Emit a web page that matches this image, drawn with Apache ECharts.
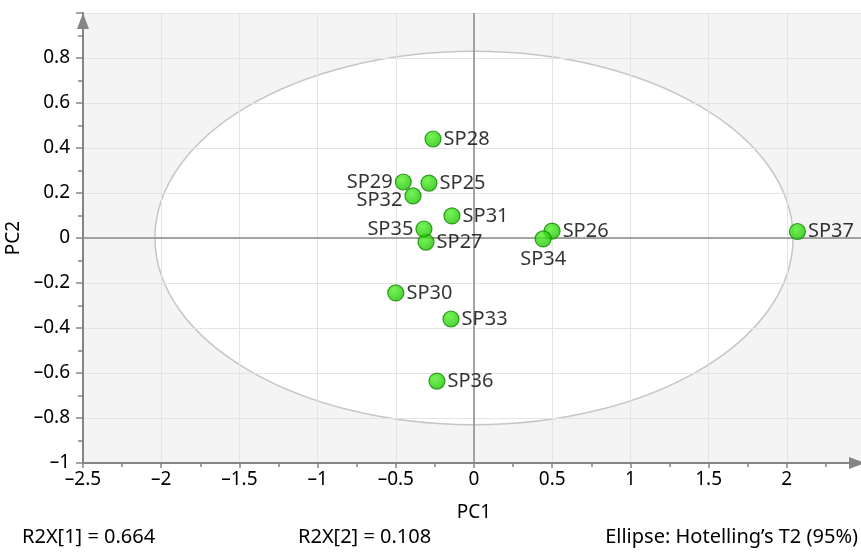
<!DOCTYPE html>
<html>
<head>
<meta charset="utf-8">
<script src="https://cdn.jsdelivr.net/npm/echarts@6/dist/echarts.min.js"></script>
<style>
  html, body { margin: 0; padding: 0; background: #fff; }
  #main { width: 861px; height: 552px; }
</style>
</head>
<body>
<div id="main"></div>
<script>
// scores
var sampleNames = ['SP25', 'SP26', 'SP27', 'SP28', 'SP29', 'SP30', 'SP31', 'SP32', 'SP33', 'SP34', 'SP35', 'SP36', 'SP37'];
var pc1Values = [-0.288, 0.499, -0.307, -0.262, -0.452, -0.500, -0.141, -0.390, -0.147, 0.442, -0.320, -0.237, 2.068];
var pc2Values = [0.244, 0.031, -0.018, 0.440, 0.249, -0.244, 0.098, 0.187, -0.360, -0.004, 0.040, -0.636, 0.029];
// Hotelling T2 ellipse, centre and half axes in data units
var ellipseCenter = [0, 0];
var ellipseRadii = [2.04, 0.83];
var footerTexts = ['R2X[1] = 0.664', 'R2X[2] = 0.108', 'Ellipse: Hotelling\u2019s T2 (95%)'];

// where each label sits relative to its dot
var labelPlace = { SP29: 'left', SP32: 'left', SP35: 'left', SP34: 'bottom' };

var font = 'Noto Sans';
function dash(v) {
  return String(v).replace('-', '\u2013');
}

var points = [];
for (var i = 0; i < sampleNames.length; i++) {
  var p = { name: sampleNames[i], value: [pc1Values[i], pc2Values[i]] };
  if (labelPlace[sampleNames[i]]) {
    p.label = { position: labelPlace[sampleNames[i]] };
  }
  if (sampleNames[i] === 'SP32') p.label.offset = [0, 4];
  points.push(p);
}

var myChart = echarts.init(document.getElementById('main'));
var option = {
  animation: false,
  grid: {
    left: 83, top: 13, width: 782, height: 450,
    outerBoundsMode: 'none', containLabel: false,
    show: true, borderWidth: 0, backgroundColor: '#f4f4f4'
  },
  xAxis: {
    type: 'value', min: -2.5, max: 2.5, interval: 0.5, z: 3,
    name: 'PC1', nameLocation: 'middle', nameGap: 40,
    nameTextStyle: { fontFamily: font, fontSize: 19, color: '#000' },
    axisLine: { onZero: false, lineStyle: { color: '#858585', width: 2 }, symbol: ['none', 'triangle'], symbolSize: [12, 16], symbolOffset: [0, -8] },
    axisTick: { length: 5, lineStyle: { color: '#858585', width: 1.5 } },
    minorTick: { show: true, splitNumber: 2, length: 4, lineStyle: { color: '#858585', width: 1.5 } },
    axisLabel: {
      margin: 7, fontFamily: font, fontSize: 19, color: '#000',
      formatter: function (v) { return v > 2.4 ? '' : dash(v); }
    },
    splitLine: { show: true, lineStyle: { color: '#e4e4e4', width: 1 } }
  },
  yAxis: {
    type: 'value', min: -1, max: 1, interval: 0.2, z: 3,
    name: 'PC2', nameLocation: 'middle', nameGap: 50,
    nameTextStyle: { fontFamily: font, fontSize: 19, color: '#000' },
    axisLine: { onZero: false, lineStyle: { color: '#858585', width: 2 }, symbol: ['none', 'triangle'], symbolSize: [12, 16], symbolOffset: [0, -8] },
    axisTick: { length: 7, lineStyle: { color: '#858585', width: 1.5 } },
    minorTick: { show: true, splitNumber: 2, length: 5, lineStyle: { color: '#858585', width: 1.5 } },
    axisLabel: {
      margin: 13, fontFamily: font, fontSize: 19, color: '#000',
      formatter: function (v) { return v > 0.95 ? '' : dash(Math.round(v * 10) / 10); }
    },
    splitLine: { show: true, lineStyle: { color: '#e4e4e4', width: 1 } }
  },
  series: [
    {
      type: 'custom',
      z: 1,
      silent: true,
      data: [ellipseCenter],
      renderItem: function (params, api) {
        var c = api.coord(ellipseCenter);
        var s = api.size(ellipseRadii);
        return {
          type: 'ellipse',
          shape: { cx: c[0], cy: c[1], rx: s[0], ry: s[1] },
          style: { fill: '#ffffff', stroke: '#c6c6c6', lineWidth: 1.5 }
        };
      }
    },
    {
      type: 'scatter',
      z: 5,
      symbolSize: 16,
      data: points,
      itemStyle: {
        color: new echarts.graphic.RadialGradient(0.4, 0.35, 0.65, [
          { offset: 0, color: '#55f22c' },
          { offset: 1, color: '#1cc400' }
        ]),
        borderColor: '#118600',
        borderWidth: 1.2
      },
      label: {
        show: true, position: 'right', distance: 2,
        formatter: '{b}', fontFamily: font, fontSize: 20, color: '#000'
      },
      markLine: {
        silent: true, symbol: 'none', label: { show: false },
        lineStyle: { color: '#8a8a8a', width: 1.5, type: 'solid' },
        data: [{ xAxis: 0 }, { yAxis: 0 }]
      }
    }
  ],
  graphic: [
    { type: 'text', left: 22, top: 527, style: { text: footerTexts[0], font: '20px "Noto Sans"', fill: '#000' } },
    { type: 'text', left: 298, top: 527, style: { text: footerTexts[1], font: '20px "Noto Sans"', fill: '#000' } },
    { type: 'text', right: 3, top: 527, style: { text: footerTexts[2], font: '20px "Noto Sans"', fill: '#000' } }
  ]
};
myChart.setOption(option);
</script>
</body>
</html>
